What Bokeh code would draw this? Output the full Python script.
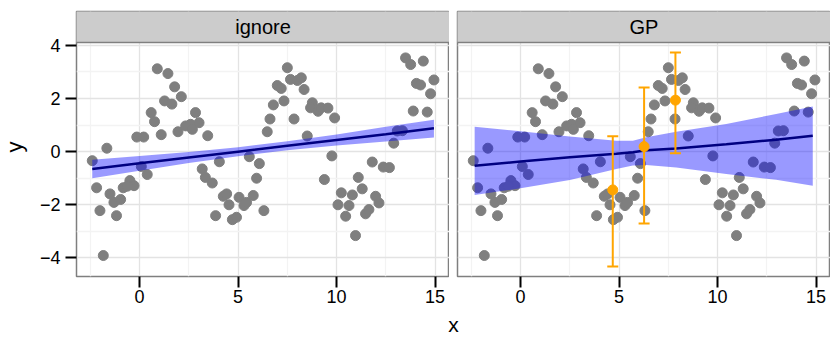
import math
from bokeh.plotting import figure
from bokeh.layouts import column, row
from bokeh.models import FixedTicker, Range1d, ColumnDataSource, Whisker, TeeHead
from bokeh.core.properties import value
from bokeh.embed import file_html
from bokeh.resources import INLINE

# ---------------- data ----------------
panel_labels = ["ignore", "GP"]
x_ticks = [0, 5, 10, 15]
x_tick_labels = ["0", "5", "10", "15"]
x_minor = [-2.5, 2.5, 7.5, 12.5]
y_ticks = [-4, -2, 0, 2, 4]
y_tick_labels = ["\u22124", "\u22122", "0", "2", "4"]
y_minor = [-3, -1, 1, 3]

obs_x = [-2.40, -1.66, -0.14, 0.21, 0.90, 1.44, 1.78, 2.12, 1.27, 1.64,
         0.59, 0.76, 1.10, 1.95, 2.34, 2.59, 2.68, 3.02, 2.84, 3.46,
         4.05, 5.57, 6.08, 6.48, 6.62, 6.79, 6.99, 7.19, 7.50, 7.66,
         8.01, 8.21, 8.35, 7.33, 7.84, 8.51, 8.77, 8.68, 9.06, 9.22,
         9.56, 9.90, 9.76, 11.81, 12.37, 12.68, 13.50, 13.76, 14.40, 14.05,
         14.26, 14.94, 14.77, 13.89, 14.60, 13.08, 13.34, 12.90, 0.09, 0.39,
         -2.18, -1.50, -1.30, -0.96, -0.83, -0.49, -0.28, -0.62, -2.01, -1.17,
         -1.84, 3.18, 3.34, 3.69, 5.94, 4.25, 4.42, 4.54, 5.05, 5.30,
         5.43, 5.77, 3.86, 4.71, 4.92, 6.31, 9.38, 10.24, 10.80, 11.30,
         10.07, 10.63, 10.46, 11.98, 12.15, 11.47, 11.64, 10.96, 11.10]
obs_y = [-0.34, 0.13, 0.55, 0.55, 3.12, 2.94, 2.44, 2.07, 1.91, 1.79,
         1.47, 1.13, 0.64, 0.75, 0.97, 1.03, 0.84, 1.09, 1.47, 0.60,
         -0.38, -0.19, -0.45, 0.75, 1.23, 1.76, 2.49, 2.38, 3.16, 2.72,
         2.68, 2.78, 2.34, 1.91, 1.23, 0.59, 1.84, 1.65, 1.52, 1.65,
         1.64, 1.27, -0.16, -0.39, -0.58, -0.60, 3.53, 3.28, 3.41, 2.57,
         2.51, 2.70, 2.18, 1.53, 1.49, 0.78, 0.79, 0.32, -0.56, -0.86,
         -1.36, -1.59, -1.91, -1.80, -1.36, -1.09, -1.28, -1.30, -2.22, -2.41,
         -3.91, -0.65, -0.97, -1.18, -1.00, -1.68, -1.59, -2.00, -1.72, -2.03,
         -1.91, -1.65, -2.41, -2.56, -2.47, -2.22, -1.05, -1.55, -1.63, -1.40,
         -2.00, -2.03, -2.43, -1.68, -1.93, -2.34, -2.18, -3.16, -0.97]

# "ignore" panel: linear fit and its confidence band
ignore_x = [-2.40, 0.0, 2.5, 5.0, 7.5, 10.0, 12.5, 14.94]
ignore_fit = [-0.65, -0.44, -0.22, 0.00, 0.22, 0.44, 0.66, 0.88]
ignore_lo = [-1.00, -0.72, -0.43, -0.17, 0.05, 0.23, 0.38, 0.53]
ignore_hi = [-0.30, -0.16, -0.01, 0.17, 0.39, 0.65, 0.94, 1.20]

# "GP" panel: fit and band
gp_band_x = [-2.33, 0.0, 2.5, 4.86, 5.70, 6.38, 7.90, 10.44, 12.97, 14.83]
gp_fit = [-0.53, -0.37, -0.21, -0.08, -0.02, 0.05, 0.12, 0.28, 0.45, 0.60]
gp_lo = [-1.63, -1.38, -1.07, -0.65, -0.52, -0.50, -0.60, -0.84, -1.06, -1.28]
gp_hi = [0.94, 0.77, 0.57, 0.41, 0.41, 0.54, 0.75, 1.04, 1.42, 1.70]

# GP imputed points with intervals
imp_x = [4.68, 6.27, 7.86]
imp_mean = [-1.44, 0.19, 1.94]
imp_lo = [-4.32, -2.70, -0.06]
imp_hi = [0.58, 2.42, 3.73]

# ---------------- style / layout ----------------
FONT = "Liberation Sans"
GRID_MAJOR = "#e3e3e3"
GRID_MINOR = "#f3f3f3"
BORDER = "#7f7f7f"
STRIP_FILL = "#cccccc"
POINT = "#7f7f7f"
BAND = "blue"
LINE = "#000080"

YLAB_W = 30
LEFT_B1 = 46
FRAME_W = 373
LEFT_B2 = 8
TOP_B = 11
STRIP_H = 31
PANEL_H = 234
FRAME_H = STRIP_H + PANEL_H
BOTTOM_B = 35
XLAB_H = 28
X_RANGE = (-3.2, 15.73)
Y_BOTTOM = -4.70
Y_PANEL_TOP = 4.11
PX_PER_Y = PANEL_H / (Y_PANEL_TOP - Y_BOTTOM)
Y_TOP = Y_PANEL_TOP + STRIP_H / PX_PER_Y


def make_panel(label, left_border, show_y):
    p = figure(frame_width=FRAME_W, frame_height=FRAME_H,
               x_range=Range1d(*X_RANGE), y_range=Range1d(Y_BOTTOM, Y_TOP),
               output_backend="svg", toolbar_location=None,
               min_border_left=left_border, min_border_right=0,
               min_border_top=TOP_B, min_border_bottom=BOTTOM_B,
               x_axis_location="below",
               y_axis_location="left" if show_y else None)
    p.background_fill_color = "white"
    p.border_fill_color = "white"
    p.outline_line_color = BORDER
    p.outline_line_width = 1.5

    xt = FixedTicker(ticks=x_ticks, minor_ticks=x_minor)
    yt = FixedTicker(ticks=y_ticks, minor_ticks=y_minor)

    p.xaxis.ticker = xt
    p.xaxis.major_label_overrides = dict(zip(x_ticks, x_tick_labels))
    axes = list(p.xaxis)
    if show_y:
        p.yaxis.ticker = yt
        p.yaxis.major_label_overrides = dict(zip(y_ticks, y_tick_labels))
        axes += list(p.yaxis)
    for ax in axes:
        ax.axis_line_color = None
        ax.major_tick_in = 0
        ax.major_tick_out = 11
        ax.major_tick_line_color = "black"
        ax.major_tick_line_width = 2
        ax.minor_tick_line_color = None
        ax.major_label_text_font = FONT
        ax.major_label_text_font_size = "18px"
        ax.major_label_text_color = "black"
    p.xaxis.major_label_standoff = 2
    if show_y:
        p.yaxis.major_label_standoff = 5

    p.xgrid.ticker = xt
    p.ygrid.ticker = yt
    for g in list(p.xgrid) + list(p.ygrid):
        g.grid_line_color = GRID_MAJOR
        g.grid_line_width = 1.3
        g.minor_grid_line_color = GRID_MINOR
        g.minor_grid_line_width = 1.3

    # facet strip (grey header box with the panel label)
    p.quad(left=[X_RANGE[0] - 1], right=[X_RANGE[1] + 1],
           bottom=[Y_PANEL_TOP], top=[Y_TOP + 1],
           fill_color=STRIP_FILL, line_color=BORDER, line_width=1.5)
    p.text(x=[(X_RANGE[0] + X_RANGE[1]) / 2], y=[(Y_PANEL_TOP + Y_TOP) / 2],
           text=[label], text_align="center", text_baseline="middle",
           text_font=value(FONT), text_font_size="20px", text_color="black")

    p.scatter(obs_x, obs_y, size=10, fill_color=POINT, line_color=POINT)
    return p


# left panel
p1 = make_panel(panel_labels[0], LEFT_B1, True)
p1.varea(x=ignore_x, y1=ignore_lo, y2=ignore_hi, fill_color=BAND, fill_alpha=0.4)
p1.line(ignore_x, ignore_fit, line_color=LINE, line_width=2.5)

# right panel
p2 = make_panel(panel_labels[1], LEFT_B2, False)
p2.varea(x=gp_band_x, y1=gp_lo, y2=gp_hi, fill_color=BAND, fill_alpha=0.4)
p2.line(gp_band_x, gp_fit, line_color=LINE, line_width=2.5)
src = ColumnDataSource(dict(x=imp_x, lo=imp_lo, hi=imp_hi))
wh = Whisker(source=src, base="x", lower="lo", upper="hi",
             line_color="orange", line_width=2,
             upper_head=TeeHead(size=11, line_color="orange", line_width=2),
             lower_head=TeeHead(size=11, line_color="orange", line_width=2))
wh.level = "annotation"
p2.add_layout(wh)
p2.scatter(imp_x, imp_mean, size=10, fill_color="orange", line_color="orange")

# y axis title
ylab_h = TOP_B + FRAME_H + BOTTOM_B
ylab = figure(width=YLAB_W, height=ylab_h, x_range=Range1d(0, YLAB_W),
              y_range=Range1d(0, ylab_h), min_border=0,
              output_backend="svg", toolbar_location=None,
              x_axis_location=None, y_axis_location=None)
ylab.grid.visible = False
ylab.outline_line_color = None
ylab.text(x=[14], y=[BOTTOM_B + PANEL_H / 2], text=["y"], angle=math.pi / 2,
          text_align="center", text_baseline="middle", text_font=value(FONT),
          text_font_size="22px", text_color="black")

# x axis title
total_w = YLAB_W + LEFT_B1 + FRAME_W + LEFT_B2 + FRAME_W
xlab = figure(width=total_w, height=XLAB_H, x_range=Range1d(0, total_w),
              y_range=Range1d(0, XLAB_H), min_border=0,
              output_backend="svg", toolbar_location=None,
              x_axis_location=None, y_axis_location=None)
xlab.grid.visible = False
xlab.outline_line_color = None
xlab.text(x=[(YLAB_W + LEFT_B1 + total_w) / 2], y=[15], text=["x"],
          text_align="center", text_baseline="middle", text_font=value(FONT),
          text_font_size="21px", text_color="black")

layout = column(row(ylab, p1, p2), xlab)

open("out.html", "w").write(file_html(layout, INLINE))
